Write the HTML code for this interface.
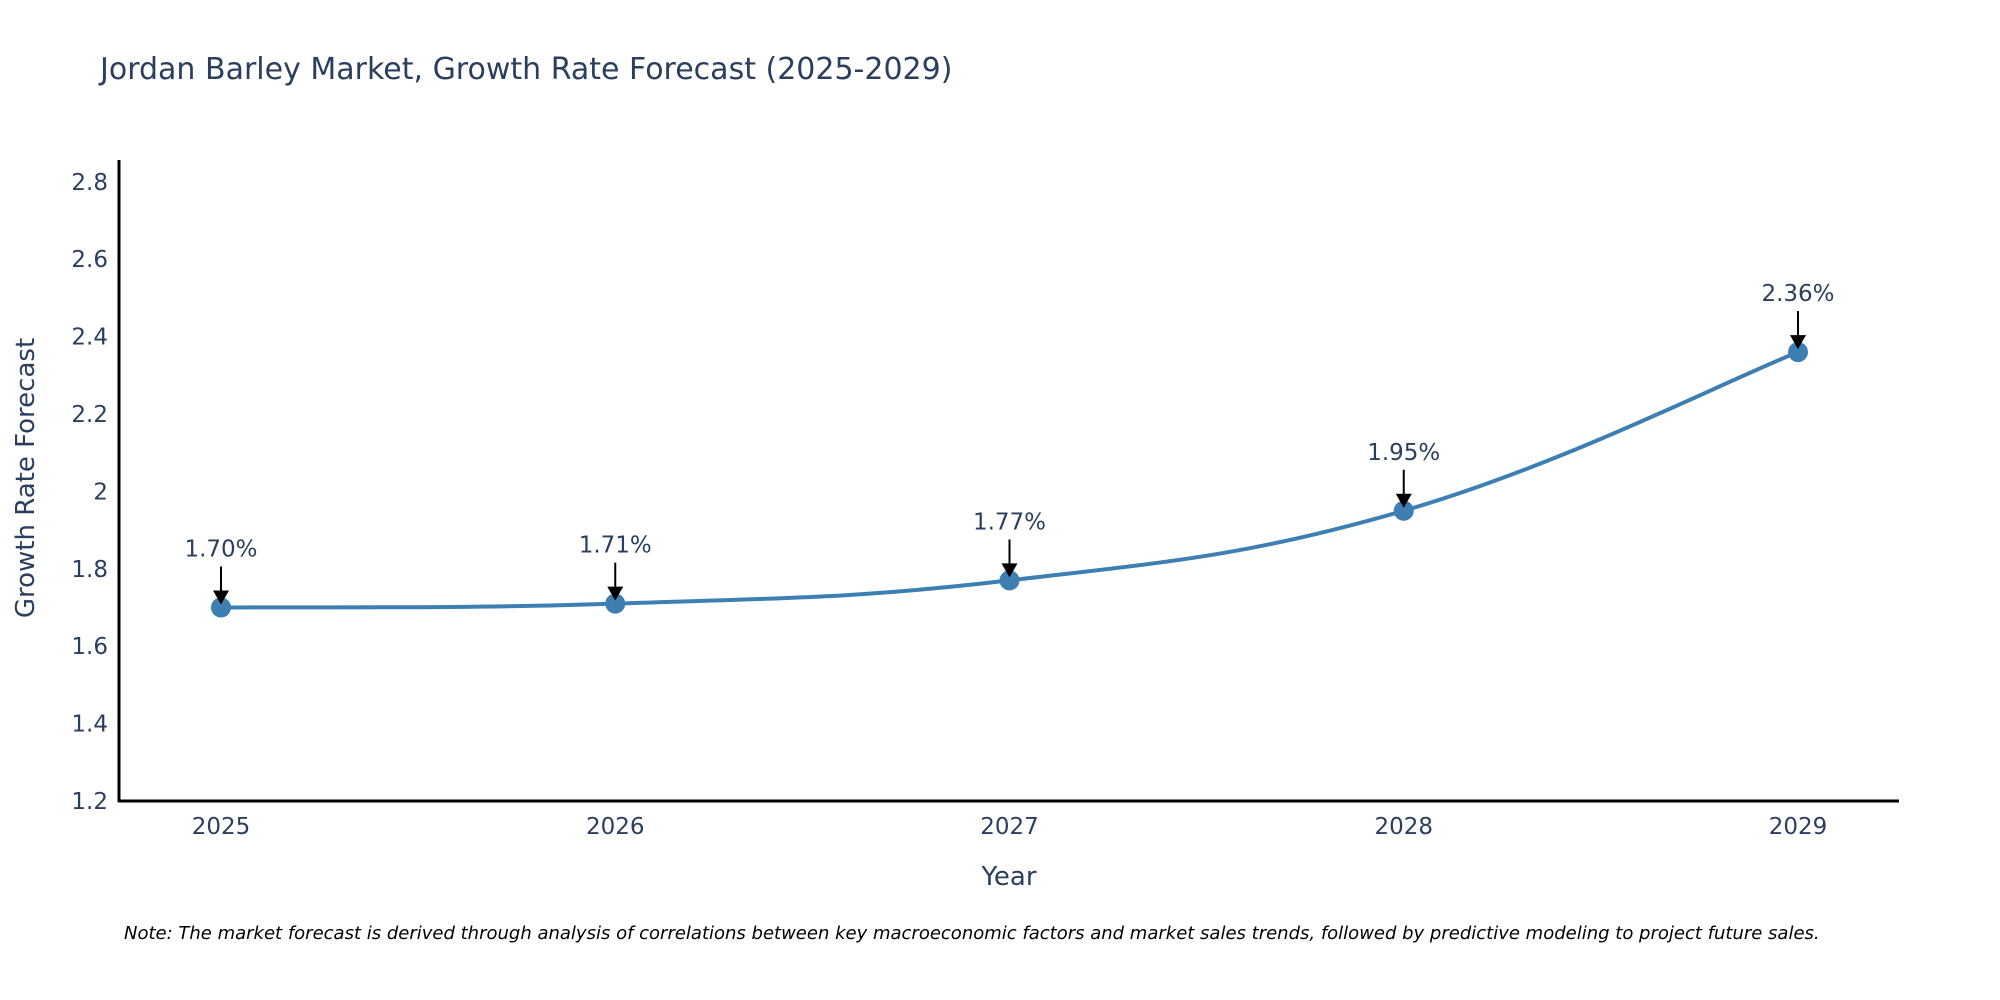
<!DOCTYPE html>
<html><head><meta charset="utf-8"><style>
html,body{margin:0;padding:0;background:#fff;overflow:hidden;}
svg{display:block;font-family:"DejaVu Sans","Liberation Sans",sans-serif;}
</style></head><body>
<svg id="chart" width="2000" height="1000" viewBox="0 0 2000 1000">
<text x="100" y="79" font-size="30" fill="#2a3f5f">Jordan Barley Market, Growth Rate Forecast (2025-2029)</text>
<g id="yticks"></g>
<g id="xticks"></g>
<path id="line" fill="none" stroke="#3d7fb3" stroke-width="4"/>
<g id="points"></g>
<g id="annos"></g>
<line x1="119" y1="160" x2="119" y2="802" stroke="#000" stroke-width="3"/>
<line x1="118" y1="801" x2="1899" y2="801" stroke="#000" stroke-width="3"/>
<text transform="translate(34,478) rotate(-90)" text-anchor="middle" font-size="26" fill="#2a3f5f">Growth Rate Forecast</text>
<text x="1009" y="885" text-anchor="middle" font-size="26" fill="#2a3f5f">Year</text>
<text x="124" y="939" font-size="18" font-style="italic" fill="#000">Note: The market forecast is derived through analysis of correlations between key macroeconomic factors and market sales trends, followed by predictive modeling to project future sales.</text>
</svg>
<script>
const years = [2025, 2026, 2027, 2028, 2029];
const growth = [1.70, 1.71, 1.77, 1.95, 2.36];
const labels = ["1.70%", "1.71%", "1.77%", "1.95%", "2.36%"];
const yTicks = [1.2, 1.4, 1.6, 1.8, 2, 2.2, 2.4, 2.6, 2.8];
const NS = "http://www.w3.org/2000/svg";
const x = v => 221 + (v - 2025) * 394.25;
const y = v => 801 - (v - 1.2) * 387;
function mk(tag, attrs, parent){const e=document.createElementNS(NS,tag);for(const k in attrs)e.setAttribute(k,attrs[k]);parent.appendChild(e);return e;}
const yt=document.getElementById('yticks');
yTicks.forEach(t=>{const e=mk('text',{x:108,y:y(t)+8,'text-anchor':'end','font-size':23,fill:'#2a3f5f'},yt);


e.textContent=String(t);});
const xt=document.getElementById('xticks');
years.forEach(t=>{const e=mk('text',{x:x(t),y:834,'text-anchor':'middle','font-size':23,fill:'#2a3f5f'},xt);


e.textContent=String(t);});
const P=years.map((yr,i)=>[x(yr),y(growth[i])]);
let d=`M${P[0][0]},${P[0][1]}`;const s=0.2;
for(let i=0;i<P.length-1;i++){const p0=P[Math.max(i-1,0)],p1=P[i],p2=P[i+1],p3=P[Math.min(i+2,P.length-1)];
const c1=[p1[0]+(p2[0]-p0[0])*s,p1[1]+(p2[1]-p0[1])*s],c2=[p2[0]-(p3[0]-p1[0])*s,p2[1]-(p3[1]-p1[1])*s];
d+=` C${c1[0]},${c1[1]} ${c2[0]},${c2[1]} ${p2[0]},${p2[1]}`;}
document.getElementById('line').setAttribute('d',d);
const pts=document.getElementById('points'),an=document.getElementById('annos');
P.forEach((p,i)=>{const c=mk('circle',{cx:p[0],cy:p[1],r:10,fill:'#3d7fb3'},pts);


const l=mk('line',{x1:p[0],y1:p[1]-41,x2:p[0],y2:p[1]-14,stroke:'#000','stroke-width':2},an);


const h=mk('polygon',{points:`${p[0]-8},${p[1]-17} ${p[0]+8},${p[1]-17} ${p[0]},${p[1]-3}`,fill:'#000'},an);


const t=mk('text',{x:p[0],y:p[1]-51,'text-anchor':'middle','font-size':23,fill:'#2a3f5f'},an);


t.textContent=labels[i];});
</script>
</body></html>
